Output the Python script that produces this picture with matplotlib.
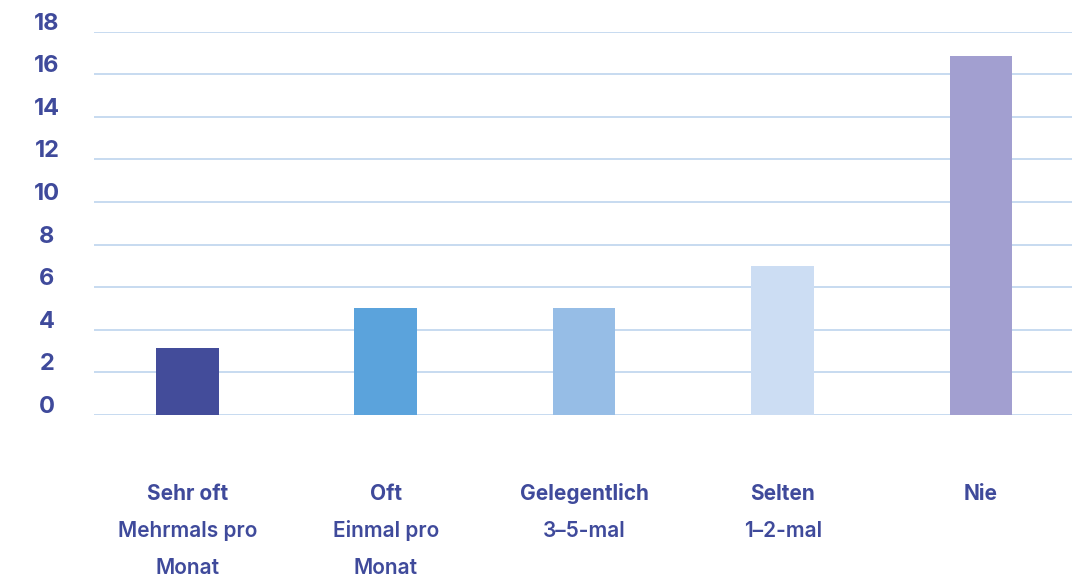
import numpy as np
import matplotlib
matplotlib.use('Agg')
import matplotlib.pyplot as plt
from matplotlib.transforms import ScaledTranslation, blended_transform_factory

plt.rcParams['font.family'] = ['Inter', 'DejaVu Sans']

# answer categories: headline + frequency description
categories = ['Sehr oft', 'Oft', 'Gelegentlich', 'Selten', 'Nie']
details = [['Mehrmals pro', 'Monat'], ['Einmal pro', 'Monat'], ['3–5-mal'], ['1–2-mal'], []]
values = [3.15, 5.0, 5.0, 7.0, 16.85]
bar_colors = ['#434C9A', '#5BA3DC', '#96BDE6', '#CCDDF3', '#A29FD0']
yticks = [0, 2, 4, 6, 8, 10, 12, 14, 16, 18]

text_color = '#3F4A9B'
grid_color = '#C3D8EF'

fig = plt.figure(figsize=(10.81, 5.78), dpi=100)
ax = fig.add_axes([0.087, 0.282, 0.905, 0.6635])

x = np.arange(len(categories))
ax.bar(x, values, width=0.315, color=bar_colors, zorder=3)

ax.set_xlim(-0.47, len(categories) - 0.54)
ax.set_ylim(0, 18)
ax.set_yticks(yticks)
ax.set_yticklabels([str(t) for t in yticks], fontsize=17, fontweight='bold',
                   color=text_color, ha='center')
ax.tick_params(axis='y', length=0, pad=34)
ax.set_xticks([])
for lab in ax.get_yticklabels():
    lab.set_transform(lab.get_transform() + ScaledTranslation(0, 7.5 / 72, fig.dpi_scale_trans))

for s in ax.spines.values():
    s.set_visible(False)
ax.grid(axis='y', color=grid_color, linewidth=1.3, zorder=0)
ax.set_axisbelow(True)

# multi-line category labels under the axis
trans = blended_transform_factory(ax.transData, ax.transAxes)
line_step = 0.0965
for i, (cat, det) in enumerate(zip(categories, details)):
    y0 = -0.205
    ax.text(i, y0, cat, transform=trans, ha='center', va='center',
            fontsize=15, fontweight='bold', color=text_color)
    for j, d in enumerate(det):
        ax.text(i, y0 - line_step * (j + 1), d, transform=trans, ha='center',
                va='center', fontsize=15, fontweight='semibold', color=text_color)

fig.savefig('out.png', dpi=100)
